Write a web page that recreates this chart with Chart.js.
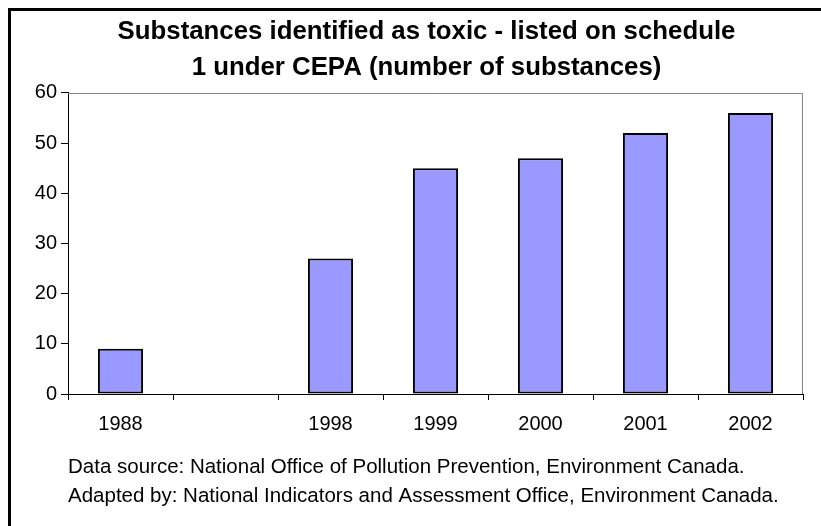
<!DOCTYPE html>
<html>
<head>
<meta charset="utf-8">
<script src="https://cdn.jsdelivr.net/npm/chart.js@4.4.1/dist/chart.umd.min.js"></script>
<style>
  body { margin: 0; background: #ffffff; }
  #wrap { width: 821px; height: 526px; }
</style>
</head>
<body>
<div id="wrap"><canvas id="toxicChart"></canvas></div>
<script>
const years = ["1988", "", "1998", "1999", "2000", "2001", "2002"];
const substances = [9, null, 27, 45, 47, 52, 56];
const yMin = 0;
const yMax = 60;
const yStep = 10;
const titleLines = [
  "Substances identified as toxic - listed on schedule",
  "1 under CEPA (number of substances)",
];
const sourceLines = [
  "Data source: National Office of Pollution Prevention, Environment Canada.",
  "Adapted by: National Indicators and Assessment Office, Environment Canada.",
];

const FONT = "'Liberation Sans', Arial, Helvetica, sans-serif";

// outer frame + grey top/right edge of the plot area
const framePlugin = {
  id: "frame",
  afterLayout(chart) {
    // centre the title over the area right of the axis labels
    const t = chart.titleBlock;
    if (t) {
      t.left = 50;
      t.width = t.right - t.left;
    }
  },
  beforeDraw(chart) {
    const ctx = chart.ctx;
    ctx.save();
    ctx.fillStyle = "#ffffff";
    ctx.fillRect(0, 0, chart.width, chart.height);
    ctx.strokeStyle = "#000000";
    ctx.lineWidth = 3;
    ctx.strokeRect(9.5, 9.5, chart.width + 20, chart.height + 20);
    ctx.restore();
  },
  beforeDatasetsDraw(chart) {
    const { ctx, chartArea: a } = chart;
    ctx.save();
    ctx.strokeStyle = "#808080";
    ctx.lineWidth = 1;
    ctx.beginPath();
    ctx.moveTo(a.left, a.top + 0.5);
    ctx.lineTo(a.right - 0.5, a.top + 0.5);
    ctx.lineTo(a.right - 0.5, a.bottom);
    ctx.stroke();
    ctx.restore();
  },
};

new Chart(document.getElementById("toxicChart"), {
  type: "bar",
  plugins: [framePlugin],
  data: {
    labels: years,
    datasets: [
      {
        data: substances,
        backgroundColor: "#9999ff",
        borderColor: "#000000",
        borderWidth: 2,
        borderSkipped: false,
        barPercentage: 0.43,
        categoryPercentage: 1,
      },
    ],
  },
  options: {
    responsive: true,
    maintainAspectRatio: false,
    animation: false,
    layout: {
      padding: { left: 0, right: 18, top: 0, bottom: 0 },
    },
    plugins: {
      legend: { display: false },
      tooltip: { enabled: false },
      title: {
        display: true,
        text: titleLines,
        color: "#000000",
        font: { family: FONT, size: 25.8, weight: "bold", lineHeight: 1.395 },
        padding: { top: 14, bottom: 7 },
      },
    },
    scales: {
      x: {
        afterFit: (scale) => { scale.height = 132; },
        grid: {
          offset: true,
          drawOnChartArea: false,
          drawTicks: true,
          tickLength: 6,
          color: "#000000",
        },
        border: { color: "#000000", width: 1 },
        ticks: {
          color: "#000000",
          padding: 12,
          font: { family: FONT, size: 20 },
        },
        title: {
          display: true,
          text: sourceLines,
          align: "start",
          color: "#000000",
          font: { family: FONT, size: 20.5, lineHeight: 1.415 },
          padding: { top: 0, bottom: 15 },
        },
      },
      y: {
        min: yMin,
        max: yMax,
        afterFit: (scale) => { scale.width = 68; },
        grid: {
          drawOnChartArea: false,
          drawTicks: true,
          tickLength: 7,
          color: "#000000",
        },
        border: { color: "#000000", width: 1 },
        ticks: {
          stepSize: yStep,
          color: "#000000",
          padding: 4,
          font: { family: FONT, size: 20 },
        },
      },
    },
  },
});
</script>
</body>
</html>
